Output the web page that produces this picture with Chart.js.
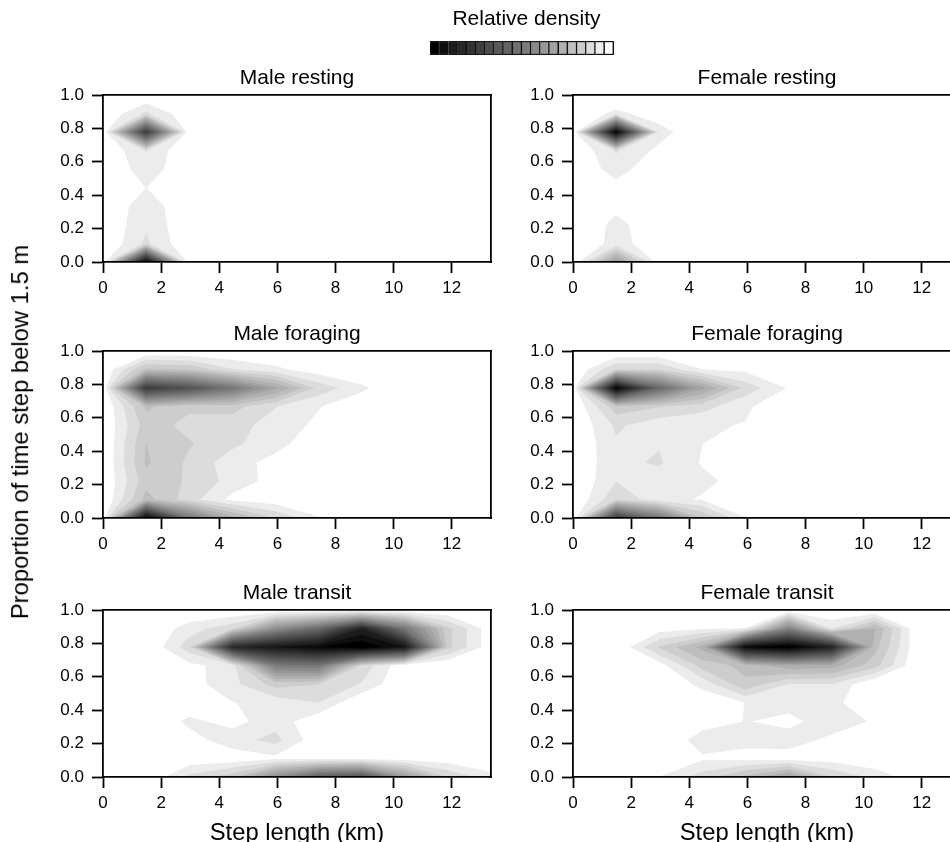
<!DOCTYPE html>
<html><head><meta charset="utf-8">
<script src="https://cdn.jsdelivr.net/npm/chart.js@4"></script>
<style>
html,body{margin:0;padding:0;background:#fff;overflow:hidden}
#page{position:relative;width:950px;height:842px;overflow:hidden;background:#fff}
canvas{position:absolute}
#ylab{position:absolute;left:20px;top:431.5px;transform:translate(-50%,-50%) rotate(-90deg);white-space:nowrap;font:23.8px "Liberation Sans",Arial,sans-serif;color:#000;line-height:1}
</style></head><body><div id="page"></div>
<script>
const xNodes=[0,1.483,2.967,4.45,5.933,7.417,8.9,10.383,11.867,13.35];
const yNodes=[0,0.111,0.222,0.333,0.444,0.556,0.667,0.778,0.889,1];
const xTicks=[0,2,4,6,8,10,12];
const yTicks=[0,0.2,0.4,0.6,0.8,1];
const legendGrays=['#000000','#0e0e0e','#1c1c1c','#282828','#343434','#404040','#4c4c4c','#585858','#646464','#707070','#7c7c7c','#898989','#969696','#a3a3a3','#b0b0b0','#bebebe','#cdcdcd','#dcdcdc','#ececec','#ffffff'];
// Rows run from the bottom (proportion 0) to the top (proportion 1); columns follow xNodes.
const maleResting=[
[0,19.5,0,0,0,0,0,0,0,0],
[0,2.2,.13,0,0,0,0,0,0,0],
[0,1.85,.1,0,0,0,0,0,0,0],
[0,1.66,.1,0,0,0,0,0,0,0],
[0,1.01,0,0,0,0,0,0,0,0],
[0,1.57,.2,0,0,0,0,0,0,0],
[0,2.05,0,0,0,0,0,0,0,0],
[0,15,0,0,0,0,0,0,0,0],
[0,2.2,.18,0,0,0,0,0,0,0],
[0,0,0,0,0,0,0,0,0,0]];
const femaleResting=[
[0,7,.37,0,0,0,0,0,0,0],
[0,1.4,.36,0,0,0,0,0,0,0],
[0,1.31,.27,0,0,0,0,0,0,0],
[0,.74,.1,0,0,0,0,0,0,0],
[0,.6,.1,0,0,0,0,0,0,0],
[0,1.5,.08,0,0,0,0,0,0,0],
[0,2.1,.71,0,0,0,0,0,0,0],
[0,19.5,1.5,0,0,0,0,0,0,0],
[0,1.3,.35,0,0,0,0,0,0,0],
[0,0,0,0,0,0,0,0,0,0]];
const maleForaging=[
[0,19.5,10,5.5,3,1.1,.3,0,0,0],
[0,4.4,2.46,.7,.3,0,0,0,0,0],
[0,3.6,2.87,1.61,.59,.2,0,0,0,0],
[0,4.15,2.8,1.4,.69,.2,0,0,0,0],
[0,4.01,3.1,2.24,1.3,.42,.1,0,0,0],
[0,3.5,2.7,2.43,1.55,.78,.1,0,0,0],
[0,4.2,3.2,3.4,2.05,1.07,.2,0,0,0],
[0,15,13,10,6.2,2.67,1.23,0,0,0],
[0,4.2,3.94,2.1,1.25,.42,0,0,0,0],
[0,0,0,0,0,0,0,0,0,0]];
const femaleForaging=[
[0,15,10,4,1.05,.3,0,0,0,0],
[0,2.8,1.4,.89,.2,0,0,0,0,0],
[0,1.96,1.65,1.25,.6,.1,0,0,0,0],
[0,1.8,2.1,.9,.3,0,0,0,0,0],
[0,1.85,1.94,1.01,.4,0,0,0,0,0],
[0,2.2,1.35,1.1,.96,.2,0,0,0,0],
[0,3.6,3.05,2.42,1.15,.3,0,0,0,0],
[0,19.5,11,6.3,2.63,.9,.1,0,0,0],
[0,3,2.95,1.02,.75,.1,0,0,0,0],
[0,0,0,0,0,0,0,0,0,0]];
const maleTransit=[
[0,0,2.3,3.6,8,12,13,7,3,1.4],
[0,0,.25,.35,.75,.7,.7,.5,.3,0],
[0,0,.55,1.6,2.32,.29,0,0,0,0],
[0,0,1.25,.62,1.6,.17,0,0,0,0],
[0,0,.3,.96,1.36,2,0,0,0,0],
[0,0,.55,1.67,3.4,3,1.9,0,0,0],
[0,0,.7,1.5,9.5,10,2.72,.16,0,0],
[0,0,2.6,16.5,18,19,20,18,3.3,.33],
[0,0,1.5,2.7,8,11,17,10,3.3,.33],
[0,0,0,0,0,0,0,0,0,0]];
const femaleTransit=[
[0,0,1.02,2.5,4.3,6.5,3,1.7,.35,0],
[0,0,0,.84,.66,.5,.5,.1,0,0],
[0,0,0,1.54,1.3,1.47,.76,0,0,0],
[0,0,0,.44,1.04,.7,1.56,.88,0,0],
[0,0,0,.3,1.02,1.41,1.35,0,0,0],
[0,0,0,1.3,3.8,1.95,1.95,0,0,0],
[0,0,.5,3.4,4.3,5.7,5.5,3.4,0,0],
[0,0,3.1,5.35,19,20,17,4.4,.2,0],
[0,0,.5,.9,1.05,9,1.9,5.1,0,0],
[0,0,0,0,0,0,0,0,0,0]];
const panelTitles=['Male resting','Female resting','Male foraging','Female foraging','Male transit','Female transit'];
const panelGrids=[maleResting,femaleResting,maleForaging,femaleForaging,maleTransit,femaleTransit];
const legendTitle='Relative density';
const xTitle='Step length (km)';
const yTitle='Proportion of time step below 1.5 m';

const FONT='"Liberation Sans", Arial, sans-serif';
const bandColors=legendGrays.slice().reverse();

// Marching squares: closed iso-lines of a grid, inside kept on the left.
function isoLoops(grid,level){
  const e=1e-4;
  const xs=[xNodes[0]-e,...xNodes,xNodes[xNodes.length-1]+e];
  const ys=[yNodes[0]-e,...yNodes,yNodes[yNodes.length-1]+e];
  const val=(i,j)=>(i===0||j===0||i===xs.length-1||j===ys.length-1)?-1:grid[j-1][i-1];
  const next=new Map(), pts=new Map();
  const pt=(id,x,y)=>{if(!pts.has(id))pts.set(id,{x,y});return id;};
  const S=(i,j)=>{const a=val(i,j),b=val(i+1,j);return pt(`h${i}_${j}`,xs[i]+(level-a)/(b-a)*(xs[i+1]-xs[i]),ys[j]);};
  const W=(i,j)=>{const a=val(i,j),b=val(i,j+1);return pt(`v${i}_${j}`,xs[i],ys[j]+(level-a)/(b-a)*(ys[j+1]-ys[j]));};
  for(let i=0;i<xs.length-1;i++)for(let j=0;j<ys.length-1;j++){
    const a=val(i,j),b=val(i+1,j),c=val(i+1,j+1),d=val(i,j+1);
    const code=(a>=level?1:0)|(b>=level?2:0)|(c>=level?4:0)|(d>=level?8:0);
    if(code===0||code===15)continue;
    const s=()=>S(i,j),n=()=>S(i,j+1),w=()=>W(i,j),o=()=>W(i+1,j);
    const add=(f,t)=>next.set(f(),t());
    const mid=(a+b+c+d)/4>=level;
    switch(code){
      case 1:add(s,w);break; case 2:add(o,s);break; case 3:add(o,w);break;
      case 4:add(n,o);break; case 6:add(n,s);break; case 7:add(n,w);break;
      case 8:add(w,n);break; case 9:add(s,n);break; case 11:add(o,n);break;
      case 12:add(w,o);break; case 13:add(s,o);break; case 14:add(w,s);break;
      case 5:if(mid){add(s,o);add(n,w);}else{add(s,w);add(n,o);}break;
      case 10:if(mid){add(w,s);add(o,n);}else{add(w,n);add(o,s);}break;
    }
  }
  const loops=[],seen=new Set();
  for(const start of next.keys()){
    if(seen.has(start))continue;
    const loop=[];let cur=start;
    while(cur!==undefined&&!seen.has(cur)){seen.add(cur);loop.push(pts.get(cur));cur=next.get(cur);}
    loop.push(loop[0]);
    let area=0;for(let k=0;k<loop.length-1;k++)area+=loop[k].x*loop[k+1].y-loop[k+1].x*loop[k].y;
    loops.push({points:loop,area:area/2});
  }
  return loops;
}
function contourDatasets(grid){
  const all=[];
  for(let k=1;k<bandColors.length;k++){
    for(const l of isoLoops(grid,k)){
      all.push({data:l.points,size:Math.abs(l.area),level:k,
        color:bandColors[l.area>0?k:k-1]});
    }
  }
  // Contours never cross, so larger loops are painted first. Chart.js paints the last dataset first.
  all.sort((p,q)=>(q.size-p.size)||(p.level-q.level));
  return all.reverse().map(l=>({data:l.data,showLine:true,fill:'shape',backgroundColor:l.color,
    borderColor:'rgba(0,0,0,0)',borderWidth:0,pointRadius:0,pointHoverRadius:0,tension:0}));
}
const page=document.getElementById('page');
function addCanvas(left,top,w,h){
  const c=document.createElement('canvas');c.width=w;c.height=h;
  c.style.left=left+'px';c.style.top=top+'px';c.style.width=w+'px';c.style.height=h+'px';
  page.appendChild(c);return c.getContext('2d');
}
const AX=1.8, TICK_LEN=11;
const colLeft=[0,470], rowTop=[95,351,610];
const plotW=388, plotH=167, leftW=103, titleH=29, bottomH=68;
panelGrids.forEach((grid,idx)=>{
  const col=idx%2,row=Math.floor(idx/2);
  const ctx=addCanvas(colLeft[col],rowTop[row]-titleH,leftW+plotW+leftW,titleH+plotH+bottomH);
  new Chart(ctx,{type:'scatter',data:{datasets:contourDatasets(grid)},options:{
    responsive:false,animation:false,events:[],
    layout:{padding:0},
    plugins:{legend:{display:false},tooltip:{enabled:false},
      title:{display:true,text:panelTitles[idx],color:'#000',font:{family:FONT,size:21,weight:'normal',lineHeight:1},padding:{top:2,bottom:6}}},
    scales:{
      x:{type:'linear',position:'bottom',min:0,max:13.35,
        afterBuildTicks:s=>{s.ticks=xTicks.map(v=>({value:v}));},
        afterFit:s=>{s.height=bottomH;},
        border:{display:true,color:'#000',width:AX,z:1},
        grid:{drawOnChartArea:false,drawTicks:true,tickLength:TICK_LEN,tickWidth:AX,tickColor:'#000',color:'#000'},
        ticks:{color:'#000',font:{family:FONT,size:17},padding:5,maxRotation:0,autoSkip:false,callback:v=>String(v)},
        title:{display:row===2,text:xTitle,color:'#000',font:{family:FONT,size:23.8,lineHeight:1},padding:{top:0,bottom:0}}},
      y:{type:'linear',position:'left',min:0,max:1,
        afterBuildTicks:s=>{s.ticks=yTicks.map(v=>({value:v}));},
        afterFit:s=>{s.width=leftW;},
        border:{display:true,color:'#000',width:AX,z:1},
        grid:{drawOnChartArea:false,drawTicks:true,tickLength:TICK_LEN,tickWidth:AX,tickColor:'#000',color:'#000'},
        ticks:{color:'#000',font:{family:FONT,size:17},padding:8,autoSkip:false,callback:v=>Number(v).toFixed(1)}},
      xTop:{type:'linear',position:'top',min:0,max:13.35,
        border:{display:true,color:'#000',width:AX,z:1},grid:{display:false},ticks:{display:false},afterFit:s=>{s.height=0;}},
      yRight:{type:'linear',position:'right',min:0,max:1,
        border:{display:true,color:'#000',width:AX,z:1},grid:{display:false},ticks:{display:false},afterFit:s=>{s.width=leftW;}}
    }}});
});
// Shared y-axis title
const yl=document.createElement('div');yl.id='ylab';yl.textContent=yTitle;page.appendChild(yl);
// Colour key: one stacked bar with a unit segment per grey step; the spare unit on the right centres the title.
const keyCtx=addCanvas(400,2,253,53);
new Chart(keyCtx,{type:'bar',data:{labels:['key'],datasets:legendGrays.map(g=>({data:[1],backgroundColor:g,borderColor:'#111',borderWidth:1.5,barPercentage:1,categoryPercentage:1}))},
  options:{indexAxis:'y',responsive:false,animation:false,events:[],
    layout:{padding:{left:30,right:30,top:0,bottom:0}},
    plugins:{legend:{display:false},tooltip:{enabled:false},
      title:{display:true,text:legendTitle,color:'#000',font:{family:FONT,size:21,weight:'normal',lineHeight:1},padding:{top:7,bottom:11}}},
    scales:{x:{display:false,stacked:true,min:0,max:legendGrays.length+1},y:{display:false,stacked:true}}}});
</script></body></html>
